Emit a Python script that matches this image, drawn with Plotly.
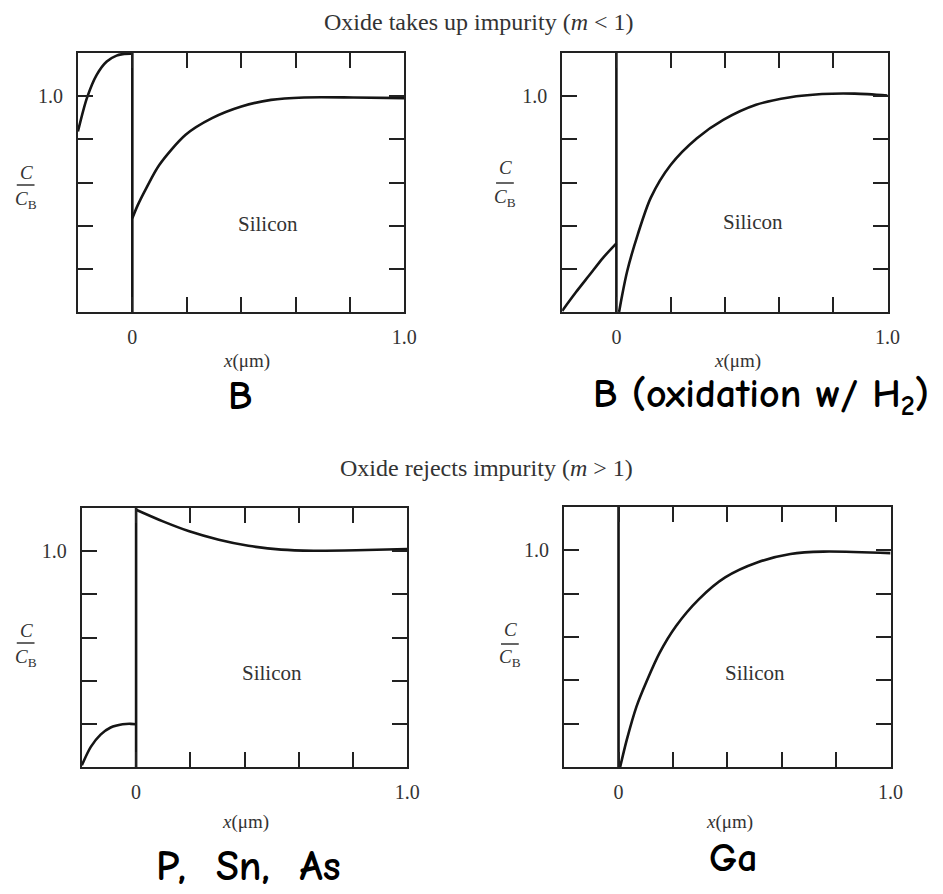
import plotly.graph_objects as go

# ---------------- data ----------------
X_RANGE = [-0.2, 1.0]
Y_RANGE = [0.0, 1.2]
X_TICKS = [0.0, 1.0]
X_TICKTEXT = ["0", "1.0"]
X_MINOR = [0.2, 0.4, 0.6, 0.8]
Y_TICKS = [1.0]
Y_TICKTEXT = ["1.0"]
Y_MINOR = [0.2, 0.4, 0.6, 0.8]
INTERFACE_X = [0.0, 0.0]
INTERFACE_Y = [0.0, 1.2]

# Panel 1: B
OX1_X = [-0.2, -0.167, -0.131, -0.094, -0.058, -0.03, 0.0]
OX1_Y = [0.836, 0.991, 1.099, 1.161, 1.188, 1.196, 1.197]
SI1_X = [0.0, 0.02, 0.051, 0.099, 0.196, 0.293, 0.401, 0.51, 0.631, 0.812, 1.0]
SI1_Y = [0.434, 0.495, 0.573, 0.681, 0.821, 0.898, 0.952, 0.983, 0.994, 0.994, 0.991]

# Panel 2: B (oxidation w/ H2)
OX2_X = [-0.2, -0.15, -0.1, -0.05, 0.0]
OX2_Y = [0.005, 0.09, 0.17, 0.25, 0.318]
SI2_X = [0.01, 0.02, 0.04, 0.079, 0.127, 0.2, 0.297, 0.394, 0.515, 0.636, 0.758, 0.879, 1.0]
SI2_Y = [0.0, 0.07, 0.19, 0.36, 0.53, 0.681, 0.805, 0.89, 0.96, 0.994, 1.01, 1.012, 1.003]

# Panel 3: P, Sn, As
OX3_X = [-0.2, -0.167, -0.131, -0.094, -0.05, -0.02, 0.0]
OX3_Y = [0.008, 0.093, 0.150, 0.183, 0.198, 0.2, 0.198]
SI3_X = [0.0, 0.099, 0.196, 0.305, 0.414, 0.535, 0.655, 0.812, 1.0]
SI3_Y = [1.192, 1.138, 1.092, 1.053, 1.025, 1.007, 1.002, 1.004, 1.01]

# Panel 4: Ga
SI4_X = [0.006, 0.03, 0.066, 0.103, 0.151, 0.211, 0.295, 0.392, 0.512, 0.632, 0.753, 1.0]
SI4_Y = [0.0, 0.124, 0.279, 0.395, 0.527, 0.65, 0.774, 0.875, 0.945, 0.983, 0.994, 0.987]

PANEL_LABELS = ["B", "B (oxidation w/ H<sub>2</sub>)", "P,  Sn,  As", "Ga"]
REGION_LABEL = "Silicon"
TITLE_TOP = "Oxide takes up impurity (<i>m</i> &lt; 1)"
TITLE_BOTTOM = "Oxide rejects impurity (<i>m</i> &gt; 1)"
X_LABEL = "<i>x</i>(μm)"

# ---------------- layout helpers ----------------
W, H = 943, 894
def px(x):
    return x / W
def py(y):
    return 1 - y / H

SERIF = "Liberation Serif, Times New Roman, serif"
COMIC = "Comic Sans MS, Comic Neue, Noto Sans, sans-serif"
INK = "#151515"
TXT = "#333333"

# panel boxes in pixels: (left, right, top, bottom)
BOXES = [(79, 410, 53, 312), (570, 900, 53, 312), (83, 413, 508, 767), (572, 903, 507, 767)]

fig = go.Figure()

panels = [
    (OX1_X, OX1_Y, SI1_X, SI1_Y),
    (OX2_X, OX2_Y, SI2_X, SI2_Y),
    (OX3_X, OX3_Y, SI3_X, SI3_Y),
    (None, None, SI4_X, SI4_Y),
]

line = dict(color=INK, width=2.6, shape="spline", smoothing=0.8)
for i, (ox, oy, sx, sy) in enumerate(panels):
    n = "" if i == 0 else str(i + 1)
    xa, ya = "x" + n, "y" + n
    fig.add_trace(go.Scatter(x=INTERFACE_X, y=INTERFACE_Y, mode="lines",
                             line=dict(color=INK, width=2.6), xaxis=xa, yaxis=ya,
                             hoverinfo="skip", showlegend=False))
    if ox is not None:
        fig.add_trace(go.Scatter(x=ox, y=oy, mode="lines", line=line,
                                 xaxis=xa, yaxis=ya, showlegend=False))
    fig.add_trace(go.Scatter(x=sx, y=sy, mode="lines", line=line,
                             xaxis=xa, yaxis=ya, showlegend=False))

layout = dict(width=W, height=H, margin=dict(l=0, r=0, t=0, b=0),
              paper_bgcolor="white", plot_bgcolor="white", showlegend=False)

axis_common = dict(showgrid=False, zeroline=False, showline=True, linecolor="#222",
                   linewidth=2, mirror="ticks", ticks="inside", ticklen=15, tickwidth=2,
                   tickcolor="#222", tickfont=dict(family=SERIF, size=20, color=TXT),
                   fixedrange=True)

for i, (l, r, t, b) in enumerate(BOXES):
    n = "" if i == 0 else str(i + 1)
    layout["xaxis" + n] = dict(axis_common, domain=[px(l), px(r)], range=X_RANGE,
                               tickmode="array", tickvals=X_TICKS, ticktext=X_TICKTEXT,
                               minor=dict(tickvals=X_MINOR, ticks="inside", ticklen=15,
                                          tickwidth=2, tickcolor="#222", showgrid=False),
                               anchor="y" + n, ticklabelstandoff=6)
    layout["yaxis" + n] = dict(axis_common, domain=[py(b), py(t)], range=Y_RANGE,
                               tickmode="array", tickvals=Y_TICKS, ticktext=Y_TICKTEXT,
                               minor=dict(tickvals=Y_MINOR, ticks="inside", ticklen=15,
                                          tickwidth=2, tickcolor="#222", showgrid=False),
                               anchor="x" + n, ticklabelstandoff=9)

fig.update_layout(**layout)

ann = []
# section titles
ann.append(dict(text=TITLE_TOP, x=px(486), y=py(22), font=dict(family=SERIF, size=24, color=TXT)))
ann.append(dict(text=TITLE_BOTTOM, x=px(493), y=py(468), font=dict(family=SERIF, size=24, color=TXT)))

# Silicon labels (data coords)
sil_pos = [(0.5, 0.41), (0.503, 0.418), (0.5, 0.434), (0.5, 0.434)]
for i, (sx, sy) in enumerate(sil_pos):
    n = "" if i == 0 else str(i + 1)
    ann.append(dict(text=REGION_LABEL, x=sx, y=sy, xref="x" + n, yref="y" + n,
                    font=dict(family=SERIF, size=21, color=TXT)))

# x-axis titles
for (cx, cy) in [(250, 361), (748, 361), (249, 822), (740, 822)]:
    ann.append(dict(text=X_LABEL, x=px(cx), y=py(cy), font=dict(family=SERIF, size=19, color=TXT)))

# y-axis fraction labels  C / C_B
shapes = []
for (cx, cy_top, cy_line, cy_bot) in [(26, 172, 185, 200), (512, 168, 183, 198),
                                      (26, 630, 643, 658), (517, 629, 644, 658)]:
    ann.append(dict(text="<i>C</i>", x=px(cx + 1), y=py(cy_top), font=dict(family=SERIF, size=19, color=TXT)))
    ann.append(dict(text="<i>C</i><sub>B</sub>", x=px(cx), y=py(cy_bot), font=dict(family=SERIF, size=19, color=TXT)))
    shapes.append(dict(type="line", xref="paper", yref="paper", x0=px(cx - 9), x1=px(cx + 9),
                       y0=py(cy_line), y1=py(cy_line), line=dict(color=TXT, width=1.5)))

# big element labels
big = dict(family=COMIC, size=40, color="black", weight="bold")
ann.append(dict(text=PANEL_LABELS[0], x=px(243), y=py(396), font=big))
ann.append(dict(text=PANEL_LABELS[1], x=px(599), y=py(396), xanchor="left", font=big))
ann.append(dict(text=PANEL_LABELS[2], x=px(252), y=py(866), font=dict(big, size=42)))
ann.append(dict(text=PANEL_LABELS[3], x=px(744), y=py(858), font=big))

for a in ann:
    a.setdefault("xref", "paper")
    a.setdefault("yref", "paper")
    a.setdefault("xanchor", "center")
    a["yanchor"] = "middle"
    a["showarrow"] = False

fig.update_layout(annotations=ann, shapes=shapes)
fig.write_html("out.html", config={"displayModeBar": False},
               post_script="document.body.style.margin='0';document.body.style.overflow='hidden';")
